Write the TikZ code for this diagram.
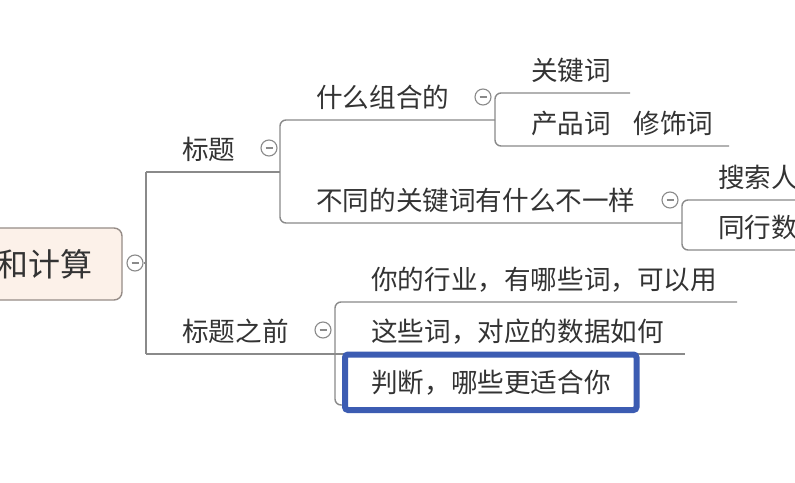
\documentclass[tikz,border=0pt]{standalone}
\usepackage{fontspec}
\setmainfont{Noto Sans CJK SC}
\usepackage{tikz}
\usetikzlibrary{positioning, calc}
\definecolor{lineGray}{RGB}{138,138,138}
\definecolor{inkGray}{RGB}{51,51,51}
\definecolor{rootPeach}{RGB}{252,241,233}
\definecolor{rootEdge}{RGB}{150,140,135}
\definecolor{markBlue}{RGB}{60,92,178}

\begin{document}
\begin{tikzpicture}[
    x=1pt, y=-1pt,
    link/.style={draw=lineGray, line width=1.4pt, rounded corners=6pt},
    topic/.style={anchor=base west, xshift=36pt, yshift=13pt, inner sep=0pt,
      text=inkGray, font=\fontsize{26.6}{30}\selectfont},
    fold/.style={circle, draw=lineGray, fill=white, line width=1.1pt,
      minimum size=16pt, inner sep=0pt,
      path picture={\draw[lineGray, line width=1.1pt]
        ([xshift=-3.5pt]path picture bounding box.center) -- ([xshift=3.5pt]path picture bounding box.center);}},
    rootbox/.style={rectangle, draw=rootEdge, fill=rootPeach, line width=1.4pt,
      rounded corners=8pt, minimum width=142pt, minimum height=72pt},
    rootlabel/.style={anchor=base east, inner sep=0pt, text=inkGray,
      font=\fontsize{32}{36}\selectfont},
    hilite/.style={draw=markBlue, line width=6pt, rounded corners=3pt}
  ]
    \clip (0,0) rectangle (795,482);
    \fill[white] (0,0) rectangle (795,482);

    % root
    \node[rootbox] (root) at (51,264) {};
    \node[rootlabel] (rootname) at (93,276) {和计算};
    \node[fold] (c0) at (135,263) {};

    % line ends
    \coordinate (t1a) at (146,172);   \coordinate (t1b) at (280,172);
    \coordinate (t11a) at (280,120);  \coordinate (t11b) at (495,120);
    \coordinate (t111a) at (495,93);  \coordinate (t111b) at (630,93);
    \coordinate (t112a) at (495,146); \coordinate (t112b) at (729,146);
    \coordinate (t12a) at (280,223);  \coordinate (t12b) at (682,223);
    \coordinate (t121a) at (682,200); \coordinate (t121b) at (820,200);
    \coordinate (t122a) at (682,250); \coordinate (t122b) at (820,250);
    \coordinate (t2a) at (146,354);   \coordinate (t2b) at (335,354);
    \coordinate (t21a) at (335,302);  \coordinate (t21b) at (737,302);
    \coordinate (t22a) at (335,354);  \coordinate (t22b) at (685,354);
    \coordinate (t23a) at (335,405);  \coordinate (t23b) at (344,405);

    \node[topic] (t1) at (t1a) {标题};
    \node[topic] (t11) at (t11a) {什么组合的};
    \node[topic] (t111) at (t111a) {关键词};
    \node[topic] (t112) at (t112a) {产品词\hspace{0.85em}修饰词};
    \node[topic] (t12) at (t12a) {不同的关键词有什么不一样};
    \node[topic] (t121) at (t121a) {搜索人};
    \node[topic] (t122) at (t122a) {同行数};
    \node[topic] (t2) at (t2a) {标题之前};
    \node[topic] (t21) at (t21a) {你的行业，有哪些词，可以用};
    \node[topic] (t22) at (t22a) {这些词，对应的数据如何};
    \node[topic] (t23) at (t23a) {判断，哪些更适合你};

    \draw[link] (c0) -- (c0 -| t1a);
    \draw[link] (t1a) -- (t2a);
    \draw[link] (t1a) -- (t1b);
    \draw[link] (t2a) -- (t2b);
    \draw[link] (t11b) -| (t12a) -- (t12b);
    \draw[link] (t111b) -| (t112a) -- (t112b);
    \draw[link] (t121b) -| (t122a) -- (t122b);
    \draw[link] (t21b) -| (t23a) -- (t23b);
    \draw[link] (t22a) -- (t22b);

    \node[fold] (c1) at (269,148) {};
    \node[fold] (c11) at (483,97) {};
    \node[fold] (c12) at (670,200) {};
    \node[fold] (c2) at (323,330) {};

    \draw[hilite] (345,354.5) rectangle (636.5,410);
  \end{tikzpicture}
\end{document}
